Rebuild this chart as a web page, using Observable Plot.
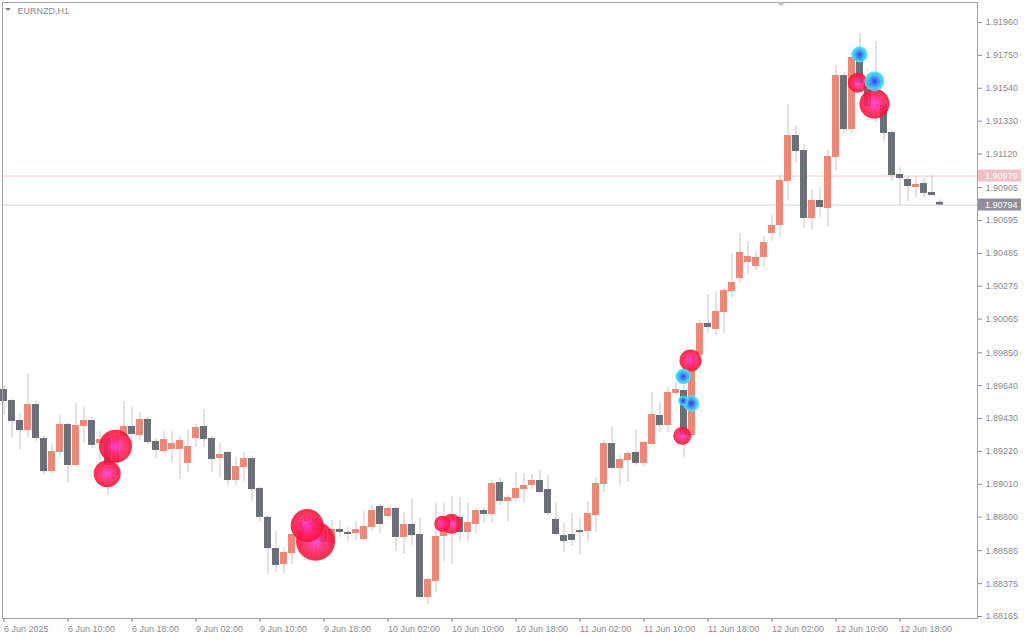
<!DOCTYPE html>
<html>
<head>
<meta charset="utf-8">
<script src="https://cdn.jsdelivr.net/npm/d3@7"></script>
<script src="https://cdn.jsdelivr.net/npm/@observablehq/plot@0.6"></script>
<style>
  html, body { margin: 0; padding: 0; background: #ffffff; overflow: hidden; }
  #chart svg { display: block; }
</style>
</head>
<body>
<div id="chart"></div>
<script>
// ---- Data (EURNZD, H1) ----
const symbolLabel = "EURNZD,H1";

const opens = [
  1.89615, 1.89545, 1.89417, 1.89353, 1.89519, 1.89302, 1.89091, 1.89213, 1.89392, 1.89130,
  1.89379, 1.89417, 1.89270, 1.89302, 1.89149, 1.89315, 1.89379, 1.89321, 1.89424, 1.89283,
  1.89219, 1.89232, 1.89232, 1.89143, 1.89302, 1.89379, 1.89302, 1.89174, 1.89213, 1.89034,
  1.89117, 1.89174, 1.88983, 1.88798, 1.88599, 1.88497, 1.88567, 1.88689, 1.88766, 1.88791,
  1.88714, 1.88631, 1.88721, 1.88702, 1.88695, 1.88657, 1.88734, 1.88868, 1.88804, 1.88855,
  1.88670, 1.88753, 1.88689, 1.88286, 1.88389, 1.88676, 1.88766, 1.88798, 1.88702, 1.88753,
  1.88842, 1.88817, 1.89021, 1.88900, 1.88919, 1.88976, 1.89002, 1.89034, 1.88976, 1.88785,
  1.88682, 1.88689, 1.88714, 1.88708, 1.88810, 1.89008, 1.89270, 1.89111, 1.89162, 1.89213,
  1.89143, 1.89264, 1.89449, 1.89385, 1.89590, 1.89609, 1.89321, 1.89833, 1.90037, 1.89999,
  1.90107, 1.90241, 1.90324, 1.90427, 1.90401, 1.90459, 1.90612, 1.90663, 1.90944, 1.91238,
  1.91142, 1.90708, 1.90823, 1.90772, 1.91098, 1.91621, 1.91276, 1.91736, 1.91570, 1.91423,
  1.91430, 1.91257, 1.90989, 1.90957, 1.90906, 1.90931, 1.90874, 1.90811
];
const highs = [
  1.89641, 1.89551, 1.89462, 1.89718, 1.89545, 1.89321, 1.89270, 1.89449, 1.89398, 1.89526,
  1.89500, 1.89436, 1.89353, 1.89341, 1.89353, 1.89539, 1.89500, 1.89468, 1.89436, 1.89302,
  1.89347, 1.89347, 1.89321, 1.89360, 1.89392, 1.89488, 1.89315, 1.89270, 1.89219, 1.89181,
  1.89213, 1.89187, 1.88989, 1.88810, 1.88708, 1.88606, 1.88734, 1.88810, 1.88855, 1.88817,
  1.88740, 1.88778, 1.88778, 1.88734, 1.88772, 1.88836, 1.88874, 1.88881, 1.88861, 1.88861,
  1.88829, 1.88919, 1.88798, 1.88414, 1.88887, 1.88887, 1.88932, 1.88925, 1.88893, 1.88855,
  1.88861, 1.89034, 1.89053, 1.88938, 1.89085, 1.89079, 1.89072, 1.89098, 1.89066, 1.88893,
  1.88759, 1.88823, 1.88791, 1.88900, 1.89053, 1.89290, 1.89379, 1.89194, 1.89226, 1.89360,
  1.89283, 1.89596, 1.89532, 1.89628, 1.89660, 1.89641, 1.89864, 1.90056, 1.90222, 1.90241,
  1.90261, 1.90484, 1.90612, 1.90561, 1.90503, 1.90593, 1.90727, 1.90982, 1.91436, 1.91302,
  1.91181, 1.90893, 1.90906, 1.91142, 1.91685, 1.91641, 1.91768, 1.91890, 1.91602, 1.91839,
  1.91462, 1.91270, 1.91034, 1.90976, 1.90970, 1.90963, 1.90982, 1.90826
];
const lows = [
  1.89449, 1.89302, 1.89226, 1.89309, 1.89283, 1.89066, 1.89079, 1.89181, 1.89015, 1.89123,
  1.89270, 1.89238, 1.89162, 1.88938, 1.89111, 1.89270, 1.89270, 1.89290, 1.89264, 1.89174,
  1.89200, 1.89143, 1.89040, 1.89085, 1.89245, 1.89245, 1.89085, 1.89053, 1.88996, 1.89002,
  1.89028, 1.88900, 1.88766, 1.88433, 1.88446, 1.88440, 1.88497, 1.88651, 1.88714, 1.88523,
  1.88599, 1.88612, 1.88670, 1.88638, 1.88651, 1.88651, 1.88708, 1.88695, 1.88798, 1.88580,
  1.88561, 1.88619, 1.88280, 1.88242, 1.88318, 1.88510, 1.88497, 1.88638, 1.88638, 1.88695,
  1.88759, 1.88759, 1.88868, 1.88766, 1.88900, 1.88887, 1.88976, 1.88951, 1.88810, 1.88682,
  1.88574, 1.88612, 1.88555, 1.88638, 1.88702, 1.88957, 1.89104, 1.88996, 1.89021, 1.89130,
  1.89123, 1.89251, 1.89341, 1.89341, 1.89577, 1.89181, 1.89290, 1.89724, 1.89973, 1.89960,
  1.89973, 1.90197, 1.90292, 1.90350, 1.90376, 1.90395, 1.90561, 1.90586, 1.90823, 1.91059,
  1.90644, 1.90631, 1.90714, 1.90650, 1.91008, 1.91251, 1.91251, 1.91526, 1.91334, 1.91321,
  1.91193, 1.90944, 1.90791, 1.90816, 1.90842, 1.90842, 1.90848, 1.90790
];
const closes = [
  1.89539, 1.89411, 1.89353, 1.89519, 1.89302, 1.89091, 1.89219, 1.89392, 1.89130, 1.89385,
  1.89417, 1.89258, 1.89296, 1.89130, 1.89321, 1.89379, 1.89328, 1.89424, 1.89277, 1.89226,
  1.89296, 1.89270, 1.89290, 1.89251, 1.89373, 1.89296, 1.89168, 1.89200, 1.89034, 1.89123,
  1.89174, 1.88976, 1.88798, 1.88599, 1.88491, 1.88574, 1.88689, 1.88766, 1.88804, 1.88714,
  1.88638, 1.88721, 1.88702, 1.88689, 1.88721, 1.88740, 1.88842, 1.88753, 1.88855, 1.88670,
  1.88753, 1.88682, 1.88286, 1.88401, 1.88676, 1.88778, 1.88798, 1.88702, 1.88766, 1.88842,
  1.88817, 1.89015, 1.88900, 1.88925, 1.88983, 1.89002, 1.89034, 1.88957, 1.88823, 1.88689,
  1.88644, 1.88651, 1.88702, 1.88823, 1.89015, 1.89270, 1.89111, 1.89168, 1.89206, 1.89143,
  1.89277, 1.89456, 1.89385, 1.89596, 1.89615, 1.89321, 1.89826, 1.90037, 1.90011, 1.90114,
  1.90248, 1.90299, 1.90491, 1.90465, 1.90459, 1.90554, 1.90663, 1.90951, 1.91238, 1.91136,
  1.90708, 1.90823, 1.90778, 1.91104, 1.91621, 1.91276, 1.91736, 1.91570, 1.91423, 1.91436,
  1.91251, 1.90982, 1.90963, 1.90912, 1.90925, 1.90868, 1.90855, 1.90794
];

// x axis: bar index of each time label, and the labels
const xTickIdx = [0, 8, 16, 24, 32, 40, 48, 56, 64, 72, 80, 88, 96, 104, 112];
const xLabels = ["6 Jun 2025", "6 Jun 10:00", "6 Jun 18:00", "9 Jun 02:00", "9 Jun 10:00",
  "9 Jun 18:00", "10 Jun 02:00", "10 Jun 10:00", "10 Jun 18:00", "11 Jun 02:00",
  "11 Jun 10:00", "11 Jun 18:00", "12 Jun 02:00", "12 Jun 10:00", "12 Jun 18:00"];

// y axis tick labels
const yTicks = [1.91960, 1.91750, 1.91540, 1.91330, 1.91120, 1.90905, 1.90695, 1.90485,
  1.90275, 1.90065, 1.89850, 1.89640, 1.89430, 1.89220, 1.89010, 1.88800, 1.88585, 1.88375, 1.88165];

// horizontal price levels (ask / bid)
const levelValues = [1.90979, 1.90794];
const levelKinds = ["ask", "bid"];

// signal bubbles: bar index, price, size, kind
const bubbleIdx   = [13.94, 12.9, 37.9, 38.94, 54.78, 55.94, 85.81, 84.78, 106.72, 108.81, 84.9, 84.9, 85.9, 106.94, 108.81];
const bubblePrice = [1.89253, 1.89077, 1.88746, 1.88646, 1.88757, 1.88757, 1.89801, 1.89319, 1.91575, 1.91441,
                     1.89698, 1.89543, 1.89526, 1.91756, 1.91585];
const bubbleSize  = [16.5, 13.5, 16.5, 19.5, 8, 10, 11, 9, 10, 15, 7.8, 5, 8, 8, 10];
const bubbleKind  = ["red","red","red","red","red","red","red","red","red","red","cyan","cyan","cyan","cyan","cyan"];

// ---- Build tables ----
const candles = opens.map((o, i) => ({i, open: o, high: highs[i], low: lows[i], close: closes[i]}));
const bulls = candles.filter(d => d.close >= d.open);
const bears = candles.filter(d => d.close < d.open);
const bubbles = bubbleIdx.map((x, k) => ({x, price: bubblePrice[k], size: bubbleSize[k], kind: bubbleKind[k]}));
const labelByIdx = new Map(xTickIdx.map((t, k) => [t, xLabels[k]]));

const BULL = "#f08878", BEAR = "#6a6f78", WICK = "#c6c8d0", TEXT = "#8b8b93";

const chart = Plot.plot({
  width: 1024,
  height: 640,
  marginLeft: 2,
  marginRight: 47,
  marginTop: 2,
  marginBottom: 22,
  x: {domain: [-0.1875, 121.6875], axis: null},
  y: {domain: [1.881522, 1.920878], axis: null},
  r: {type: "identity"},
  style: {fontFamily: "'Liberation Sans', Arial, sans-serif", fontSize: "9px", background: "#ffffff", color: TEXT},
  marks: [
    Plot.ruleY([levelValues[0]], {stroke: "#f3c5ce", strokeWidth: 1}),
    Plot.ruleY([levelValues[1]], {stroke: "#d3d4da", strokeWidth: 1}),
    Plot.ruleX(candles, {x: "i", y1: "low", y2: "high", stroke: WICK, strokeWidth: 1}),
    Plot.rect(bulls, {x1: d => d.i - 0.4375, x2: d => d.i + 0.4375, y1: "open", y2: "close", fill: BULL}),
    Plot.rect(bears, {x1: d => d.i - 0.4375, x2: d => d.i + 0.4375, y1: "open", y2: "close", fill: BEAR}),
    Plot.dot(bubbles.filter(d => d.kind === "red"), {x: "x", y: "price", r: "size", fill: "url(#gradRed)", fillOpacity: 0.88, stroke: "none"}),
    Plot.dot(bubbles.filter(d => d.kind === "cyan"), {x: "x", y: "price", r: "size", fill: "url(#gradCyan)", fillOpacity: 0.9, stroke: "none"}),
    Plot.frame({stroke: "#a3a3aa"}),
    Plot.axisY(yTicks, {anchor: "right", tickSize: 4, tickPadding: 4, tickFormat: d => d.toFixed(5), color: TEXT, fontSize: 9}),
    Plot.axisX(xTickIdx, {anchor: "bottom", tickSize: 4, tickPadding: 3, tickFormat: d => labelByIdx.get(d), textAnchor: "start", color: TEXT, fontSize: 9}),
    Plot.text([symbolLabel], {frameAnchor: "top-left", dx: 15, dy: 5, text: d => d, textAnchor: "start", lineAnchor: "top", fill: TEXT, fontSize: 9})
  ]
});

// gradients for the bubbles
const svg = d3.select(chart);
const defs = svg.insert("defs", ":first-child");
const gR = defs.append("radialGradient").attr("id", "gradRed");
[[0, "#ff3cf5"], [0.15, "#ff30c2"], [0.4, "#ff247a"], [0.72, "#ff1a4c"], [1, "#f51030"]]
  .forEach(([o, c]) => gR.append("stop").attr("offset", o).attr("stop-color", c));
const gC = defs.append("radialGradient").attr("id", "gradCyan");
[[0, "#1e2cff"], [0.3, "#2f6cf6"], [0.62, "#34b6f0"], [0.88, "#36def4"], [1, "#5ae8f8"]]
  .forEach(([o, c]) => gC.append("stop").attr("offset", o).attr("stop-color", c));

// price level tags on the right axis
const ys = chart.scale("y");
const xr = chart.scale("x").range;
levelValues.forEach((v, k) => {
  const y = ys.apply(v);
  const g = svg.append("g").attr("text-anchor", "start");
  g.append("rect").attr("x", xr[1] + 1).attr("y", y - 6).attr("width", 43).attr("height", 12)
    .attr("fill", levelKinds[k] === "ask" ? "#f0c0c9" : "#8f9097");
  g.append("text").attr("x", xr[1] + 8).attr("y", y).attr("dy", "0.35em").attr("text-anchor", "start")
    .attr("fill", "#ffffff").attr("font-size", 9).text(v.toFixed(5));
});

// small chart decorations (window menu arrow, chart shift marker)
svg.append("path").attr("d", "M5,8 L11,8 L8,11 Z").attr("fill", "#7a7d86");
svg.append("path").attr("d", "M777,2.5 L785,2.5 L781,6.5 Z").attr("fill", "#c9c9ce");

document.getElementById("chart").appendChild(chart);
</script>
</body>
</html>
